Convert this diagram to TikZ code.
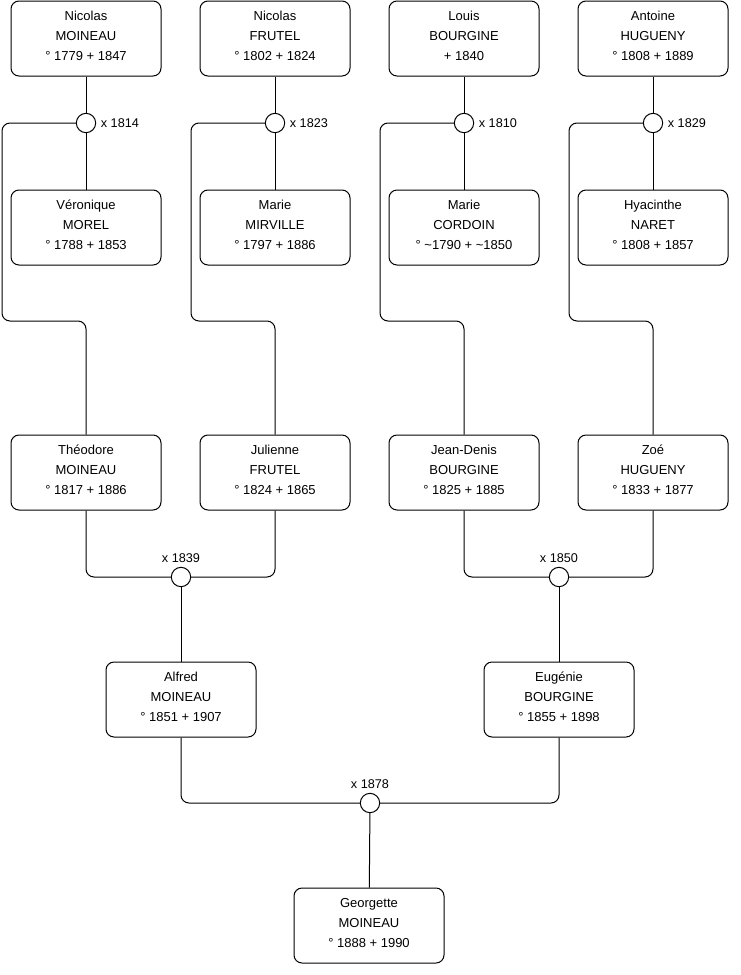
\documentclass[tikz,border=0pt]{standalone}
\usepackage{fontspec}
\setmainfont{Liberation Sans}
\usetikzlibrary{positioning}

\begin{document}
\begin{tikzpicture}[
      x=0.75pt,y=-0.75pt,
      person/.style={draw,rounded corners=6pt,minimum width=112.5pt,minimum height=56.25pt,align=center,font=\fontsize{9.75}{15}\selectfont,line width=0.75pt},
      wed/.style={draw,circle,fill=white,minimum size=14.5pt,inner sep=0pt,line width=0.75pt},
      lbl/.style={font=\fontsize{9.5}{11}\selectfont},
      link/.style={line width=0.75pt,rounded corners=6pt}
    ]
    \useasboundingbox (0,0) rectangle (740,975);
    \node[person] (p1) at (86,38.5) {Nicolas\\MOINEAU\\° 1779 + 1847\strut};
    \node[person] (p2) at (275,38.5) {Nicolas\\FRUTEL\\° 1802 + 1824\strut};
    \node[person] (p3) at (464,38.5) {Louis\\BOURGINE\\+ 1840\strut};
    \node[person] (p4) at (653,38.5) {Antoine\\HUGUENY\\° 1808 + 1889\strut};
    \node[person] (w1) at (86,227.5) {Véronique\\MOREL\\° 1788 + 1853\strut};
    \node[person] (w2) at (275,227.5) {Marie\\MIRVILLE\\° 1797 + 1886\strut};
    \node[person] (w3) at (464,227.5) {Marie\\CORDOIN\\° \char`~1790 + \char`~1850\strut};
    \node[person] (w4) at (653,227.5) {Hyacinthe\\NARET\\° 1808 + 1857\strut};
    \node[wed,label={[lbl]right:x 1814}] (m1) at (86,123) {};
    \node[wed,label={[lbl]right:x 1823}] (m2) at (275,123) {};
    \node[wed,label={[lbl]right:x 1810}] (m3) at (464,123) {};
    \node[wed,label={[lbl]right:x 1829}] (m4) at (653,123) {};
    \node[person] (c1) at (86,472.5) {Théodore\\MOINEAU\\° 1817 + 1886\strut};
    \node[person] (c2) at (275,472.5) {Julienne\\FRUTEL\\° 1824 + 1865\strut};
    \node[person] (c3) at (464,472.5) {Jean-Denis\\BOURGINE\\° 1825 + 1885\strut};
    \node[person] (c4) at (653,472.5) {Zoé\\HUGUENY\\° 1833 + 1877\strut};
    \node[wed,label={[lbl]above:x 1839}] (m5) at (181,577) {};
    \node[wed,label={[lbl]above:x 1850}] (m6) at (559,577) {};
    \node[person] (g1) at (181,699.5) {Alfred\\MOINEAU\\° 1851 + 1907\strut};
    \node[person] (g2) at (559,699.5) {Eugénie\\BOURGINE\\° 1855 + 1898\strut};
    \node[wed,label={[lbl]above:x 1878}] (m7) at (370,803) {};
    \node[person] (d1) at (369,925.5) {Georgette\\MOINEAU\\° 1888 + 1990\strut};

    \foreach \i in {1,...,4}{
      \draw[link] (p\i) -- (m\i);
      \draw[link] (m\i) -- (w\i);
    }
    \draw[link] (m1.west) -| (2,321) -| (c1.north);
    \draw[link] (m2.west) -| (191,321) -| (c2.north);
    \draw[link] (m3.west) -| (380,321) -| (c3.north);
    \draw[link] (m4.west) -| (569,321) -| (c4.north);
    \draw[link] (c1.south) |- (m5.west);
    \draw[link] (c2.south) |- (m5.east);
    \draw[link] (c3.south) |- (m6.west);
    \draw[link] (c4.south) |- (m6.east);
    \draw[link] (m5) -- (g1);
    \draw[link] (m6) -- (g2);
    \draw[link] (g1.south) |- (m7.west);
    \draw[link] (g2.south) |- (m7.east);
    \draw[link] (m7) -- (d1);
  \end{tikzpicture}
\end{document}
